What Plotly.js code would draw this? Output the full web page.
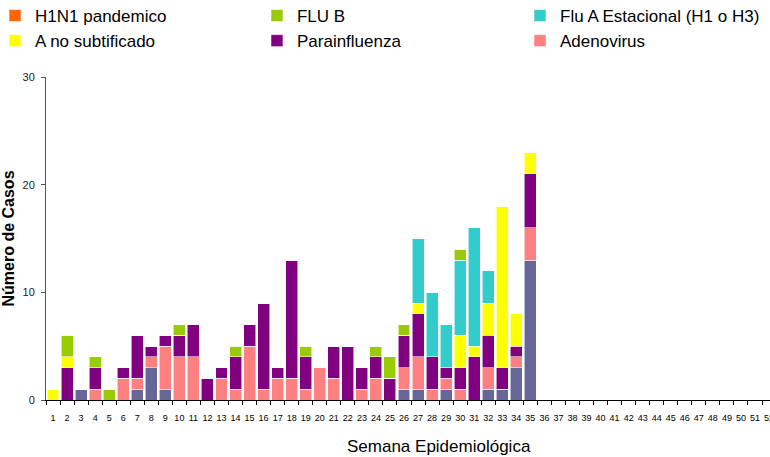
<!DOCTYPE html>
<html>
<head>
<meta charset="utf-8">
<script src="https://cdn.plot.ly/plotly-3.0.1.min.js"></script>
<style>html,body{margin:0;padding:0;background:#fff;}#chart{width:770px;height:457px;}</style>
</head>
<body>
<div id="chart"></div>
<script>
// Semana epidemiológica (tick labels / categories)
var weeks = ["1","2","3","4","5","6","7","8","9","10","11","12","13","14","15","16","17","18","19","20",
  "21","22","23","24","25","26","27","28","29","30","31","32","33","34","35","36","37","38","39","40",
  "41","42","43","44","45","46","47","48","49","50","51","52"];
// weeks with data (1-35)
var dataWeeks = ["1","2","3","4","5","6","7","8","9","10","11","12","13","14","15","16","17","18","19","20",
  "21","22","23","24","25","26","27","28","29","30","31","32","33","34","35"];

var vsr        = [0,0,1,0,0,0,1,3,1,0,0,0,0,0,0,0,0,0,0,0,0,0,0,0,0,1,1,0,1,0,0,1,1,3,13];
var adenovirus = [0,0,0,1,0,2,1,1,4,4,4,0,2,1,5,1,2,2,1,3,2,0,1,2,0,2,3,1,1,1,0,2,0,1,3];
var parainfl   = [0,3,0,2,0,1,4,1,1,2,3,2,1,3,2,8,1,11,3,0,3,5,2,2,2,3,4,3,1,2,4,3,2,1,5];
var aNoSubtif  = [1,1,0,0,0,0,0,0,0,0,0,0,0,0,0,0,0,0,0,0,0,0,0,0,0,0,1,0,0,3,1,3,15,3,2];
var fluAEstac  = [0,0,0,0,0,0,0,0,0,0,0,0,0,0,0,0,0,0,0,0,0,0,0,0,0,0,6,6,4,7,11,3,0,0,0];
var fluB       = [0,2,0,1,1,0,0,0,0,1,0,0,0,1,0,0,0,0,1,0,0,0,0,1,2,1,0,0,0,1,0,0,0,0,0];
var h1n1       = [0,0,0,0,0,0,0,0,0,0,0,0,0,0,0,0,0,0,0,0,0,0,0,0,0,0,0,0,0,0,0,0,0,0,0];

var names  = ["VSR","Adenovirus","Parainfluenza","A no subtificado","Flu A Estacional (H1 o H3)","FLU B","H1N1 pandemico"];
var series = [vsr, adenovirus, parainfl, aNoSubtif, fluAEstac, fluB, h1n1];
var colors = ["#666699","#FF8080","#800080","#FFFF00","#33CCCC","#99CC00","#FF6600"];
var legendOf = [null,"legend3","legend2","legend","legend3","legend2","legend"];
var ranks    = [0, 2, 2, 2, 1, 1, 1];

var traces = series.map(function(vals, i){
  return {
    type: "bar",
    name: names[i],
    x: dataWeeks,
    y: vals,
    marker: {color: colors[i], line: {color: "rgba(255,255,255,0.7)", width: 0.8}},
    showlegend: legendOf[i] !== null,
    legend: legendOf[i] || "legend",
    legendrank: ranks[i] * 100 + i
  };
});

var legendBase = {
  orientation: "v", xref: "paper", yref: "paper",
  yanchor: "top", xanchor: "left", y: 1.2446, traceorder: "normal",
  bgcolor: "rgba(0,0,0,0)", borderwidth: 0,
  font: {family: "Liberation Sans, Arial, sans-serif", size: 17, color: "#000"},
  tracegroupgap: 0, itemclick: false
};
function leg(x){ var o = JSON.parse(JSON.stringify(legendBase)); o.x = x; return o; }

var layout = {
  width: 770, height: 457,
  margin: {l: 46, r: 0, t: 77, b: 57, autoexpand: false},
  paper_bgcolor: "#fff", plot_bgcolor: "#fff",
  barmode: "stack", bargap: 0.15,
  font: {family: "Liberation Sans, Arial, sans-serif", color: "#000"},
  showlegend: true,
  legend: leg(-0.0704),
  legend2: leg(0.2914),
  legend3: leg(0.6547),
  xaxis: {
    type: "category", categoryorder: "array", categoryarray: weeks,
    range: [-0.5, 51.07], showgrid: false, zeroline: false,
    showline: true, linecolor: "#000", linewidth: 1,
    ticks: "outside", tickson: "boundaries", ticklen: 4, tickcolor: "#000",
    tickfont: {size: 9, color: "#000"}, ticklabelstandoff: 9, tickangle: 0,
    dtick: 1
  },
  yaxis: {
    range: [0, 30], tickvals: [0,10,20,30], showgrid: false, zeroline: false,
    showline: true, linecolor: "#555", linewidth: 1,
    ticks: "outside", ticklen: 4, tickcolor: "#555",
    tickfont: {size: 11, color: "#222"}, ticklabelstandoff: 4,
    title: {text: "<b>Número de Casos</b>", font: {size: 16, color: "#000"}, standoff: 3}
  },
  annotations: [{
    text: "Semana Epidemiológica", xref: "paper", yref: "paper",
    x: (439 - 46) / 724, y: -0.1443, xanchor: "center", yanchor: "middle",
    showarrow: false, font: {size: 17, color: "#000"}
  }]
};

Plotly.newPlot("chart", traces, layout, {displayModeBar: false, staticPlot: true});
</script>
</body>
</html>
